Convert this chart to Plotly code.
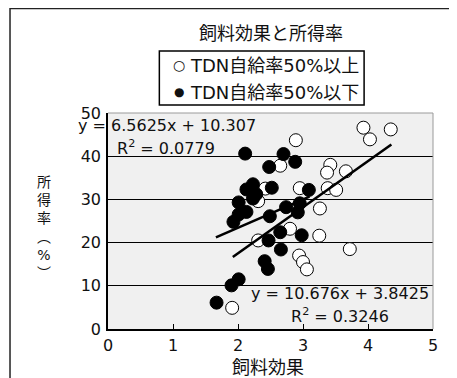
import plotly.graph_objects as go

# Open circles: TDN自給率50%以上
open_x = [3.93, 4.03, 4.35, 2.89, 3.42, 3.37, 3.66, 3.38, 3.51, 2.95, 2.65,
          3.26, 3.25, 3.72, 2.94, 3.00, 3.06, 1.91, 2.31, 2.80, 2.42, 2.31]
open_y = [46.6, 43.9, 46.2, 43.7, 38.0, 36.2, 36.5, 32.6, 32.2, 32.6, 37.8,
          27.9, 21.6, 18.5, 17.0, 15.5, 13.8, 4.9, 20.5, 23.2, 32.5, 29.6]

# Filled circles: TDN自給率50%以下
fill_x = [2.11, 2.70, 2.88, 2.48, 2.23, 2.13, 2.28, 2.23, 2.01, 2.52, 3.09,
          2.13, 2.01, 1.93, 2.49, 2.74, 2.95, 2.92, 2.65, 2.98, 2.47, 2.66,
          2.41, 2.46, 2.01, 1.90, 1.67]
fill_y = [40.6, 40.5, 38.7, 37.5, 33.5, 32.3, 31.2, 30.2, 29.3, 32.7, 32.2,
          27.1, 26.5, 24.8, 26.1, 28.2, 29.1, 27.0, 22.4, 21.7, 20.5, 18.4,
          15.7, 13.9, 11.5, 10.1, 6.1]

# Trend lines (slope, intercept as drawn, x range)
trend_fill = {"slope": 6.5625, "intercept": 10.307, "x": [1.66, 3.10]}
trend_open = {"slope": 10.676, "intercept": -3.8425, "x": [1.92, 4.36]}

eq_fill = ["y = 6.5625x + 10.307", "R<sup>2</sup> = 0.0779"]
eq_open = ["y = 10.676x + 3.8425", "R<sup>2</sup> = 0.3246"]

title_text = "飼料効果と所得率"
legend_symbols = ["○", "●"]
legend_labels = ["TDN自給率50%以上", "TDN自給率50%以下"]
x_title = "飼料効果"
y_title = "所<br>得<br>率<br>︵<br>%<br>︶"

x_ticks = [0, 1, 2, 3, 4, 5]
y_ticks = [0, 10, 20, 30, 40, 50]

FONT = "DejaVu Sans, Noto Sans CJK JP, sans-serif"
TXT = "#111111"

fig = go.Figure()
fig.add_trace(go.Scatter(x=open_x, y=open_y, mode="markers",
                         marker=dict(size=13, color="white", line=dict(color="black", width=1)),
                         showlegend=False, cliponaxis=False))
fig.add_trace(go.Scatter(x=fill_x, y=fill_y, mode="markers",
                         marker=dict(size=13, color="black", line=dict(color="black", width=1)),
                         showlegend=False, cliponaxis=False))
for t in (trend_fill, trend_open):
    ys = [t["slope"] * xv + t["intercept"] for xv in t["x"]]
    fig.add_trace(go.Scatter(x=t["x"], y=ys, mode="lines",
                             line=dict(color="black", width=2.6), showlegend=False))


def txt(x, y, text, size, xref="paper", yref="paper", xanchor="left"):
    return dict(x=x, y=y, xref=xref, yref=yref, text=text, showarrow=False,
                xanchor=xanchor, yanchor="middle",
                font=dict(size=size, family=FONT, color=TXT))


ann = [
    txt(-0.0985, 0.944, eq_fill[0], 16),
    txt(0.10, 41.9, eq_fill[1], 16, xref="x", yref="y"),
    txt(2.17, 8.2, eq_open[0], 16, xref="x", yref="y"),
    txt(2.78, 3.2, eq_open[1], 16, xref="x", yref="y"),
    txt(0.501, 1.369, title_text, 18, xanchor="center"),
    txt(0.193, 1.222, legend_symbols[0], 14, xanchor="left"),
    txt(0.247, 1.222, legend_labels[0], 18, xanchor="left"),
    txt(0.198, 1.096, legend_symbols[1], 12, xanchor="left"),
    txt(0.247, 1.096, legend_labels[1], 18, xanchor="left"),
    txt(0.491, -0.178, x_title, 18, xanchor="center"),
    txt(-0.198, 0.472, y_title, 14, xanchor="center"),
]

shapes = [
    # outer frame
    dict(type="rect", xref="paper", yref="paper", x0=-0.3015, x1=1.0523, y0=-0.30, y1=1.484,
         line=dict(color="#222222", width=1.5), layer="above"),
    # legend box
    dict(type="rect", xref="paper", yref="paper", x0=0.158, x1=0.788, y0=1.037, y1=1.287,
         line=dict(color="black", width=1.5), layer="above"),
    # plot frame top & right
    dict(type="line", xref="paper", yref="paper", x0=0, x1=1, y0=1, y1=1,
         line=dict(color="#9a9a9a", width=1), layer="above"),
    dict(type="line", xref="paper", yref="paper", x0=1, x1=1, y0=0, y1=1,
         line=dict(color="#9a9a9a", width=1), layer="above"),
]

fig.update_layout(
    width=449, height=370,
    margin=dict(l=100, r=24, t=105, b=49),
    paper_bgcolor="white", plot_bgcolor="#f0f0f0",
    font=dict(family=FONT, size=16, color=TXT),
    annotations=ann, shapes=shapes, showlegend=False,
)
fig.update_xaxes(range=[0, 5], tickvals=x_ticks, showgrid=False, zeroline=False,
                 showline=True, linecolor="black", linewidth=1.5,
                 ticks="inside", ticklen=5, tickcolor="black", tickwidth=1,
                 ticklabelstandoff=1, tickfont=dict(size=16, family=FONT, color=TXT))
fig.update_yaxes(range=[0, 50], tickvals=y_ticks, showgrid=True, gridcolor="black", gridwidth=1,
                 zeroline=False, showline=True, linecolor="black", linewidth=1.5,
                 ticks="", ticklabelstandoff=2, tickfont=dict(size=16, family=FONT, color=TXT))

fig.write_html("out.html")
